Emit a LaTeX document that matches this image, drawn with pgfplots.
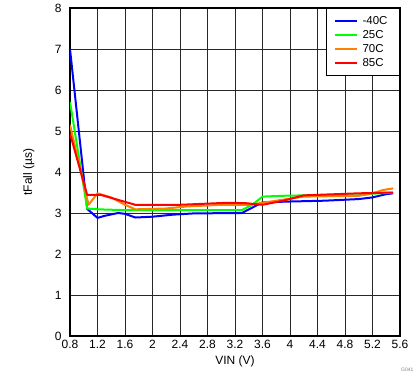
\documentclass[border=0pt]{standalone}
\usepackage{pgfplots}
\pgfplotsset{compat=1.18}
\usepackage{fontspec}
\setmainfont{Liberation Sans}
\definecolor{cblue}{RGB}{0,0,255}
\definecolor{cgreen}{RGB}{0,255,0}
\definecolor{corange}{RGB}{255,128,0}
\definecolor{cred}{RGB}{255,0,0}
\definecolor{gridc}{RGB}{40,40,40}
\begin{document}
\begin{tikzpicture}[x=1pt,y=1pt]
\begin{axis}[
  at={(0,0)}, anchor=south west,
  scale only axis, width=330pt, height=328pt,
  xmin=0.8, xmax=5.6, ymin=0, ymax=8,
  xtick={0.8,1.2,1.6,2,2.4,2.8,3.2,3.6,4,4.4,4.8,5.2,5.6},
  xticklabels={0.8,1.2,1.6,2,2.4,2.8,3.2,3.6,4,4.4,4.8,5.2,5.6},
  ytick={0,1,2,3,4,5,6,7,8},
  yticklabels={0,1,2,3,4,5,6,7,8},
  major tick length=0pt,
  grid=major,
  major grid style={gridc, line width=1pt},
  axis line style={black, line width=1.3pt},
  tick label style={font=\fontsize{12}{14}\selectfont},
  xticklabel style={yshift=-1pt},
  yticklabel style={xshift=-5pt},
  xlabel={VIN (V)},
  ylabel={tFall (µs)},
  label style={font=\fontsize{12}{14}\selectfont},
  xlabel style={at={(rel axis cs:0.5,0)}, anchor=north, yshift=-16pt},
  ylabel style={at={(rel axis cs:0,0.5)}, anchor=south, yshift=32pt},
  legend style={at={(rel axis cs:1,1)}, anchor=north east,
    draw=black, line width=1pt, fill=white,
    font=\fontsize{11.5}{13}\selectfont,
    row sep=0.5pt, inner xsep=7pt, inner ysep=5.5pt,
    nodes={inner xsep=5pt},
    cells={anchor=west}},
  legend image code/.code={\draw[#1, line width=2pt] (0pt,0pt) -- (22pt,0pt);},
  every axis plot/.append style={line width=2pt, line join=round},
]
\addplot[cblue] coordinates {
(0.8,7.0) (1.05,3.1) (1.2,2.88) (1.3,2.93) (1.5,3.0) (1.6,2.98) (1.75,2.89)
(2.0,2.91) (2.3,2.96) (2.6,2.99) (3.3,3.0) (3.45,3.13) (3.6,3.26) (4.0,3.28)
(4.5,3.3) (5.0,3.34) (5.2,3.38) (5.4,3.46) (5.5,3.48)};
\addlegendentry{-40C}
\addplot[cgreen] coordinates {
(0.8,5.71) (1.05,3.11) (1.2,3.09) (1.6,3.07) (3.3,3.07) (3.45,3.2) (3.6,3.4)
(3.9,3.42) (4.2,3.43) (5.0,3.43) (5.2,3.47) (5.5,3.5)};
\addlegendentry{25C}
\addplot[corange] coordinates {
(0.8,5.15) (1.07,3.2) (1.2,3.48) (1.4,3.38) (1.6,3.2) (1.75,3.09) (2.2,3.11)
(2.5,3.16) (3.0,3.2) (3.4,3.2) (3.6,3.25) (4.2,3.4) (5.0,3.42) (5.2,3.48)
(5.35,3.56) (5.5,3.6)};
\addlegendentry{70C}
\addplot[cred] coordinates {
(0.8,4.94) (1.05,3.44) (1.25,3.44) (1.5,3.32) (1.75,3.2) (2.4,3.2) (3.1,3.25)
(3.35,3.24) (3.6,3.2) (3.9,3.3) (4.2,3.43) (5.0,3.48) (5.5,3.5)};
\addlegendentry{85C}
\end{axis}
\node[anchor=east, font=\fontsize{5}{6}\selectfont, text=gray] at (347,-34) {G041};
\useasboundingbox (-70,-46) rectangle (349,336);
\end{tikzpicture}
\end{document}
